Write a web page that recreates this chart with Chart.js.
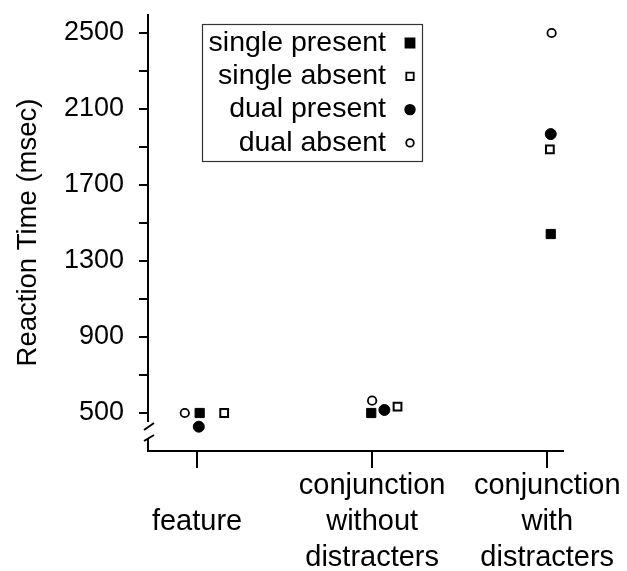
<!DOCTYPE html>
<html>
<head>
<meta charset="utf-8">
<script src="https://cdn.jsdelivr.net/npm/chart.js@4.4.1/dist/chart.umd.min.js"></script>
<style>
  html, body { margin: 0; padding: 0; background: #fff; }
  #canvas { display: block; }
</style>
</head>
<body>
<canvas id="canvas" width="627" height="571"></canvas>
<script>
// categories on the x axis (one entry per column, '\n' = line break)
var categories = ['feature', 'conjunction\nwithout\ndistracters', 'conjunction\nwith\ndistracters'];

// reaction times (msec) per condition
var seriesNames = ['single present', 'single absent', 'dual present', 'dual absent'];
var singlePresent = [500, 500, 1442];
var singleAbsent  = [500, 533, 1888];
var dualPresent   = [428, 516, 1968];
var dualAbsent    = [500, 565, 2500];

// small horizontal jitter of each marker around its column (in column units)
var singlePresentDx = [0.015, -0.005, 0.02];
var singleAbsentDx  = [0.155, 0.145, 0.015];
var dualPresentDx   = [0.01, 0.07, 0.02];
var dualAbsentDx    = [-0.07, 0, 0.025];

// y axis ticks
var yTickLabels = [500, 900, 1300, 1700, 2100, 2500];
var yMinorTicks = [700, 1100, 1500, 1900, 2300];

var FONT = '"Liberation Sans", Arial, Helvetica, sans-serif';

function pts(vals, dx) {
    return vals.map(function (v, i) {
        return { x: i + dx[i], y: v };
    });
}

// axis line with a break near the bottom + custom legend (marker on the right)
var decorations = {
    id: 'decorations',
    afterDraw: function (chart) {
        var ctx = chart.ctx;
        var a = chart.chartArea;
        var x = a.left;
        ctx.save();
        ctx.strokeStyle = '#000';
        ctx.lineWidth = 2;
        ctx.beginPath();
        ctx.moveTo(x, a.top);
        ctx.lineTo(x, a.bottom - 29);
        ctx.moveTo(x - 4, a.bottom - 21);
        ctx.lineTo(x + 6, a.bottom - 28);
        ctx.moveTo(x - 4, a.bottom - 10);
        ctx.lineTo(x + 6, a.bottom - 16);
        ctx.moveTo(x, a.bottom - 12);
        ctx.lineTo(x, a.bottom);
        ctx.stroke();

        // legend
        var bx = 202.5, by = 24.5, bw = 220, bh = 137;
        ctx.lineWidth = 1.2;
        ctx.strokeStyle = '#333';
        ctx.strokeRect(bx, by, bw, bh);
        ctx.font = '28.5px ' + FONT;
        ctx.textAlign = 'right';
        ctx.textBaseline = 'middle';
        chart.data.datasets.forEach(function (ds, i) {
            var ry = 43 + i * 33.3;
            ctx.fillStyle = '#000';
            ctx.fillText(ds.label, 386, ry);
            var mx = 410;
            ctx.lineWidth = 1.8;
            ctx.strokeStyle = '#000';
            ctx.fillStyle = ds.backgroundColor;
            ctx.beginPath();
            if (ds.pointStyle === 'rect') {
                var s = ds.backgroundColor === '#000' ? 4.5 : 3.7;
                ctx.rect(mx - s, ry - s, 2 * s, 2 * s);
            } else {
                var r = ds.backgroundColor === '#000' ? 4.8 : 3.8;
                ctx.arc(mx, ry, r, 0, Math.PI * 2);
            }
            ctx.fill();
            ctx.stroke();
        });
        ctx.restore();
    }
};

var ctx = document.getElementById('canvas').getContext('2d');
var config = {
    type: 'scatter',
    data: {
        datasets: [{
            label: seriesNames[0],
            data: pts(singlePresent, singlePresentDx),
            pointStyle: 'rect',
            pointRadius: 6.5,
            pointBorderWidth: 1,
            backgroundColor: '#000',
            borderColor: '#000'
        }, {
            label: seriesNames[1],
            data: pts(singleAbsent, singleAbsentDx),
            pointStyle: 'rect',
            pointRadius: 5.5,
            pointBorderWidth: 2,
            backgroundColor: '#fff',
            borderColor: '#000'
        }, {
            label: seriesNames[2],
            data: pts(dualPresent, dualPresentDx),
            pointStyle: 'circle',
            pointRadius: 5.5,
            pointBorderWidth: 1,
            backgroundColor: '#000',
            borderColor: '#000'
        }, {
            label: seriesNames[3],
            data: pts(dualAbsent, dualAbsentDx),
            pointStyle: 'circle',
            pointRadius: 4.2,
            pointBorderWidth: 1.8,
            backgroundColor: '#fff',
            borderColor: '#000'
        }]
    },
    options: {
        responsive: false,
        animation: false,
        devicePixelRatio: 1,
        layout: { padding: { top: 14, right: 64, left: 0, bottom: 0 } },
        plugins: {
            legend: { display: false },
            tooltip: { enabled: false }
        },
        scales: {
            x: {
                type: 'linear',
                min: -0.28,
                max: 2.09,
                afterBuildTicks: function (s) {
                    s.ticks = categories.map(function (c, i) { return { value: i }; });
                },
                afterFit: function (s) { s.height = 120; },
                border: { display: true, color: '#000', width: 2 },
                grid: { drawOnChartArea: false, drawTicks: true, tickLength: 17, color: '#000', lineWidth: 2 },
                ticks: {
                    autoSkip: false,
                    maxRotation: 0,
                    padding: 0,
                    color: '#000',
                    font: { family: FONT, size: 29, lineHeight: 1.24 },
                    callback: function (v) {
                        var lines = categories[v].split('\n');
                        return lines.length === 1 ? ['', lines[0], ''] : lines;
                    }
                }
            },
            y: {
                min: 300,
                max: 2600,
                afterBuildTicks: function (s) {
                    s.ticks = yTickLabels.concat(yMinorTicks).sort(function (a, b) { return a - b; })
                        .map(function (v) { return { value: v }; });
                },
                afterFit: function (s) {
                    s.width = 148;
                    s.paddingTop = 0;
                    s.paddingBottom = 0;
                },
                border: { display: false },
                grid: { drawOnChartArea: false, drawTicks: true, tickLength: 9, color: '#000', lineWidth: 2 },
                ticks: {
                    autoSkip: false,
                    padding: 15,
                    color: '#000',
                    font: { family: FONT, size: 27 },
                    callback: function (v) {
                        return yTickLabels.indexOf(v) >= 0 ? String(v) : '';
                    }
                },
                title: {
                    display: true,
                    text: 'Reaction Time (msec)',
                    color: '#000',
                    font: { family: FONT, size: 27.5 },
                    padding: { top: 12, bottom: 0 }
                }
            }
        }
    },
    plugins: [decorations]
};

var chart = new Chart(ctx, config);
</script>
</body>
</html>
